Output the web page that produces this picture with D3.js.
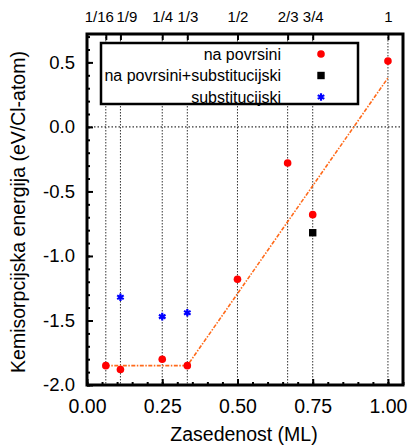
<html>
<head>
<meta charset="utf-8">
<script src="https://d3js.org/d3.v7.min.js"></script>
<style>
  body { margin: 0; background: #fff; }
  text { font-family: "Liberation Sans", Arial, sans-serif; }
</style>
</head>
<body>
<script>
// data
var fracLabels = ["1/16", "1/9", "1/4", "1/3", "1/2", "2/3", "3/4", "1"];
var fracValues = [1/16, 1/9, 1/4, 1/3, 1/2, 2/3, 3/4, 1];

var povrsiniX = [1/16, 1/9, 1/4, 1/3, 1/2, 2/3, 3/4, 1];
var povrsiniY = [-1.85, -1.88, -1.80, -1.85, -1.18, -0.28, -0.68, 0.51];

var kombX = [3/4];
var kombY = [-0.82];

var substX = [1/9, 1/4, 1/3];
var substY = [-1.32, -1.47, -1.44];

var fitX = [1/16, 1/3, 1];
var fitY = [-1.85, -1.85, 0.38];

var xTicks = [0, 0.25, 0.5, 0.75, 1.0];
var yTicks = [0.5, 0.0, -0.5, -1.0, -1.5, -2.0];

var margin = {top: 34, right: 5, bottom: 62, left: 87},
    W = 408, H = 447,
    width = W - margin.left - margin.right,
    height = H - margin.top - margin.bottom;

var svg = d3.select("body").append("svg")
    .attr("width", W)
    .attr("height", H);

var g = svg.append("g")
    .attr("transform", "translate(" + margin.left + "," + margin.top + ")");

var x = d3.scaleLinear().domain([0, 1.05]).range([0, width]);
var y = d3.scaleLinear().domain([-2.0, 0.72]).range([height, 0]);

var fmt = f => (d => d3.format(f)(d).replace("\u2212", "-"));

// vertical dotted grid at the fraction positions
g.selectAll(".vgrid").data(fracValues).enter()
    .append("line")
    .attr("x1", d => x(d)).attr("x2", d => x(d))
    .attr("y1", 0).attr("y2", height)
    .attr("stroke", "#000").attr("stroke-width", 0.8)
    .attr("stroke-dasharray", "1.5,1.5");

// zero line
g.append("line")
    .attr("x1", 0).attr("x2", width)
    .attr("y1", y(0)).attr("y2", y(0))
    .attr("stroke", "#000").attr("stroke-width", 1)
    .attr("stroke-dasharray", "1.5,2");

// axes (ticks inward)
var xAxis = d3.axisBottom(x).tickValues(xTicks).tickSize(-6).tickPadding(14)
    .tickFormat(fmt(".2f"));
var xMinor = d3.axisBottom(x).tickValues(d3.range(0, 1.051, 0.05)).tickSize(-3).tickFormat("");
var yAxis = d3.axisLeft(y).tickValues(yTicks).tickSize(-6).tickPadding(12)
    .tickFormat(fmt(".1f"));
var yMinor = d3.axisLeft(y).tickValues(d3.range(-2.0, 0.71, 0.1)).tickSize(-3).tickFormat("");
var topAxis = d3.axisTop(x).tickValues(fracValues).tickSize(-6).tickPadding(12)
    .tickFormat((d, i) => fracLabels[i]);

function styleAxis(sel, fs) {
    sel.select(".domain").remove();
    sel.selectAll(".tick line").attr("stroke", "#000").attr("stroke-width", 2);
    sel.selectAll(".tick text").attr("font-size", fs).attr("fill", "#000")
        .style("font-family", "'Liberation Sans', Arial, sans-serif");
}

g.append("g").attr("transform", "translate(0," + height + ")").call(xMinor).call(s => styleAxis(s, 14));
g.append("g").attr("transform", "translate(0," + height + ")").call(xAxis).call(s => styleAxis(s, 19.5));
g.append("g").call(yMinor).call(s => styleAxis(s, 14));
g.append("g").call(yAxis).call(s => styleAxis(s, 18.5));
var ta = g.append("g").call(topAxis).call(s => styleAxis(s, 15));
// the two crowded labels are pushed apart, as in the original
var topShift = [-7, 6, 0, 0, 0, 0, 0, 0];
ta.selectAll(".tick text").attr("dx", (d, i) => topShift[i]);

// fit line
var line = d3.line().x(d => x(d[0])).y(d => y(d[1]));
g.append("path")
    .datum(fitX.map((d, i) => [d, fitY[i]]))
    .attr("d", line)
    .attr("fill", "none")
    .attr("stroke", "#ff6a1a")
    .attr("stroke-width", 1.6)
    .attr("stroke-dasharray", "4,1.5,1.5,1.5");

// points
g.selectAll(".pov").data(povrsiniX).enter()
    .append("circle")
    .attr("cx", d => x(d))
    .attr("cy", (d, i) => y(povrsiniY[i]))
    .attr("r", 3.8)
    .attr("fill", "#ff0000");

g.selectAll(".komb").data(kombX).enter()
    .append("rect")
    .attr("x", d => x(d) - 3.7)
    .attr("y", (d, i) => y(kombY[i]) - 3.7)
    .attr("width", 7.4).attr("height", 7.4)
    .attr("fill", "#000");

var star = d3.symbol().type(d3.symbolAsterisk).size(40);
g.selectAll(".subst").data(substX).enter()
    .append("path")
    .attr("d", star)
    .attr("transform", (d, i) => "translate(" + x(d) + "," + y(substY[i]) + ")")
    .attr("fill", "none")
    .attr("stroke", "#0000ff")
    .attr("stroke-width", 2.2);

// legend
var lg = g.append("g").attr("transform", "translate(14,9)");
lg.append("rect")
    .attr("width", 257).attr("height", 61)
    .attr("fill", "#fff").attr("stroke", "#000").attr("stroke-width", 2.5);
var legendNames = ["na povrsini", "na povrsini+substitucijski", "substitucijski"];
legendNames.forEach(function(name, i) {
    var yy = 11 + i * 21.5;
    lg.append("text")
        .attr("x", 180).attr("y", yy + 5.5)
        .attr("text-anchor", "end")
        .attr("font-size", 16)
        .text(name);
});
lg.append("circle").attr("cx", 220).attr("cy", 11).attr("r", 3.8).attr("fill", "#ff0000");
lg.append("rect").attr("x", 216.3).attr("y", 28.8).attr("width", 7.4).attr("height", 7.4).attr("fill", "#000");
lg.append("path").attr("d", star).attr("transform", "translate(220,54)")
    .attr("fill", "none").attr("stroke", "#0000ff").attr("stroke-width", 2.2);

// frame
g.append("rect")
    .attr("width", width).attr("height", height)
    .attr("fill", "none").attr("stroke", "#000").attr("stroke-width", 3);

// axis titles
svg.append("text")
    .attr("x", 244).attr("y", 441)
    .attr("text-anchor", "middle")
    .attr("font-size", 19.5)
    .text("Zasedenost (ML)");

svg.append("text")
    .attr("transform", "translate(25,212) rotate(-90)")
    .attr("text-anchor", "middle")
    .attr("font-size", 19.5)
    .text("Kemisorpcijska energija (eV/Cl-atom)");
</script>
</body>
</html>
